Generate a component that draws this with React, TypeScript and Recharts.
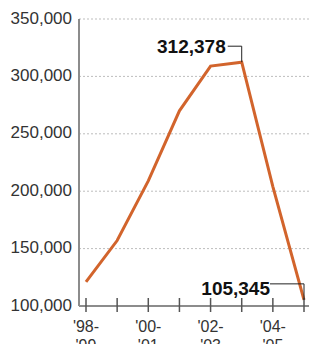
import { LineChart, Line, XAxis, YAxis, CartesianGrid, LabelList } from 'recharts';

const seasons = ["'98-'99", "'99-'00", "'00-'01", "'01-'02", "'02-'03", "'03-'04", "'04-'05", "'05-'06"];
const students = [121000, 157000, 209000, 270000, 309000, 312378, 204000, 105345];
const yTicks = [100000, 150000, 200000, 250000, 300000, 350000];
const xTickTop = ["'98-", '', "'00-", '', "'02-", '', "'04-", ''];
const xTickBottom = ["'99", '', "'01", '', "'03", '', "'05", ''];
const calloutIndexes = [5, 7];

const data = seasons.map((season, i) => ({ season, students: students[i] }));

const font = '"Liberation Sans", Arial, Helvetica, sans-serif';

function YTick(props: any) {
  const { x, y, payload } = props;
  return (
    <text x={x} y={y} dy={-1} textAnchor="end" dominantBaseline="central" fontSize={17} fontFamily={font} fill="#333">
      {payload.value.toLocaleString('en-US')}
    </text>
  );
}

function XTick(props: any) {
  const { x, y, index } = props;
  return (
    <g>
      <line x1={x} x2={x} y1={y - 8} y2={y + 6} stroke="#555" strokeWidth={1.5} />
      <text x={x} y={y + 26} textAnchor="middle" fontSize={16} fontFamily={font} fill="#333">
        {xTickTop[index]}
      </text>
      <text x={x} y={y + 45} textAnchor="middle" fontSize={16} fontFamily={font} fill="#333">
        {xTickBottom[index]}
      </text>
    </g>
  );
}

function Callout(props: any) {
  const x = props.x ?? props.viewBox?.x;
  const y = props.y ?? props.viewBox?.y;
  const i = props.index ?? students.indexOf(props.value);
  if (!calloutIndexes.includes(i) || x == null || y == null) return null;
  const label = students[i].toLocaleString('en-US');
  // peak label sits left of the point, the last one hangs above the axis
  const textEnd = i === 5 ? x - 16 : x - 34;
  const textBase = i === 5 ? y - 9 : y - 5;
  const lineStart = i === 5 ? x - 14 : x - 34;
  return (
    <g>
      <path d={`M${lineStart},${y - 16}H${x}V${y}`} fill="none" stroke="#222" strokeWidth={1} />
      <text x={textEnd} y={textBase} textAnchor="end" fontSize={19} fontWeight="bold" fontFamily={font} fill="#111">
        {label}
      </text>
    </g>
  );
}

export default function App() {
  return (
    <div style={{ position: 'relative', width: 317, height: 352, margin: -8, background: '#fff' }}>
      <LineChart width={317} height={352} data={data} margin={{ top: 19, right: 0, bottom: 0, left: 0 }}>
        <CartesianGrid vertical={false} stroke="#bdbdbd" strokeDasharray="2 2" />
        <XAxis
          dataKey="season"
          height={46}
          padding={{ left: 7, right: 13 }}
          interval={0}
          tickLine={false}
          tickSize={0}
          tickMargin={0}
          axisLine={{ stroke: '#8c8c8c', strokeWidth: 2 }}
          tick={<XTick />}
        />
        <YAxis
          width={79}
          domain={[100000, 350000]}
          ticks={yTicks}
          tickLine={false}
          tickSize={0}
          tickMargin={7}
          axisLine={{ stroke: '#8c8c8c', strokeWidth: 2 }}
          tick={<YTick />}
        />
        <Line
          type="linear"
          dataKey="students"
          stroke="#d2642c"
          strokeWidth={3}
          dot={false}
          isAnimationActive={false}
        >
          <LabelList dataKey="students" content={<Callout />} />
        </Line>
      </LineChart>
      <svg width={20} height={352} style={{ position: 'absolute', left: 0, top: 0, pointerEvents: 'none' }}>
        <text x={5} y={131} textAnchor="end" fontSize={16} fontFamily={font} fill="#222">n</text>
        <text x={4} y={149} textAnchor="end" fontSize={16} fontFamily={font} fill="#222">l</text>
        <text x={5} y={177} textAnchor="end" fontSize={11} fontFamily={font} fill="#7a6a1e">s</text>
      </svg>
    </div>
  );
}
